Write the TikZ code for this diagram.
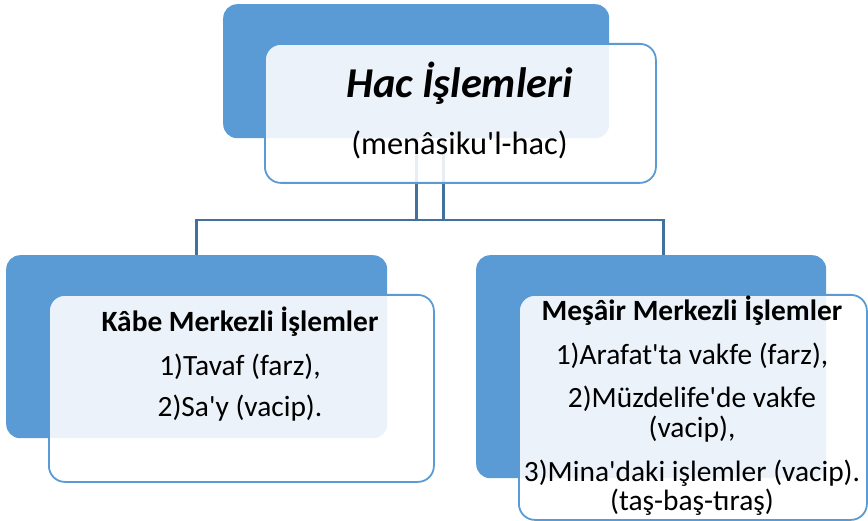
\documentclass[tikz,border=0pt]{standalone}
\usepackage{fontspec}
\setmainfont{Carlito}
\usetikzlibrary{positioning}
\definecolor{hacblue}{HTML}{5B9BD5}
\definecolor{hacline}{HTML}{41719C}
\tikzset{>=latex}
\tikzset{
  backbox/.style={draw=none, fill=hacblue, rounded corners=14pt, anchor=north west, inner sep=0pt},
  frontbox/.style={draw=hacblue, line width=1.8pt, fill=white, fill opacity=0.88, rounded corners=16pt, anchor=north west, inner sep=0pt},
  link/.style={draw=hacline, line width=2.6pt},
  txt/.style={anchor=base, inner sep=0pt, font=\fontsize{29.4}{35}\selectfont},
}
\newcommand{\q}{\textquotesingle}

\begin{document}
\begin{tikzpicture}[x=1pt,y=-1pt]
    \useasboundingbox (0,0) rectangle (868,521);
    \node[backbox, minimum width=386pt, minimum height=134pt] (topback) at (223,4) {};
    \node[backbox, minimum width=381pt, minimum height=183pt] (leftback) at (6,255) {};
    \node[backbox, minimum width=350pt, minimum height=223pt] (rightback) at (476,255) {};
    \coordinate (hbar) at (0,220);
    % connectors, behind the front boxes
    \draw[link] (topback.south) -- (topback.south |- hbar);
    \draw[link] ([xshift=27pt]topback.south) -- ([xshift=27pt]topback.south |- hbar);
    \draw[link] (leftback.north) -- (leftback.north |- hbar) -| ([xshift=12pt]rightback.north);
    \node[frontbox, minimum width=391pt, minimum height=139pt] (topfront) at (264,43) {};
    \node[frontbox, minimum width=385pt, minimum height=187pt] (leftfront) at (48,294) {};
    \node[frontbox, minimum width=348pt, minimum height=225pt] (rightfront) at (518,294) {};
    % texts
    \node[txt, font=\fontsize{42.5}{50}\selectfont\bfseries\itshape] (title) at (459.5,98) {Hac İşlemleri};
    \node[txt, font=\fontsize{32.4}{38}\selectfont] (subtitle) at (459.5,155) {(menâsiku\q l-hac)};
    \node[txt, font=\fontsize{29.4}{35}\selectfont\bfseries] (kabe) at (240,332) {Kâbe Merkezli İşlemler};
    \node[txt] (tavaf) at (240,376) {1)Tavaf (farz),};
    \node[txt] (say) at (240,417) {2)Sa\q y (vacip).};
    \node[txt, font=\fontsize{29.4}{35}\selectfont\bfseries] (mesair) at (692,321) {Meşâir Merkezli İşlemler};
    \node[txt] (arafat) at (692,365) {1)Arafat\q ta vakfe (farz),};
    \node[txt] (muzdelife) at (692,407) {2)Müzdelife\q de vakfe};
    \node[txt] (muzvacip) at (692,437) {(vacip),};
    \node[txt] (mina) at (692,481) {3)Mina\q daki işlemler (vacip).};
    \node[txt] (tas) at (692,510.5) {(taş-baş-tıraş)};
\end{tikzpicture}
\end{document}
